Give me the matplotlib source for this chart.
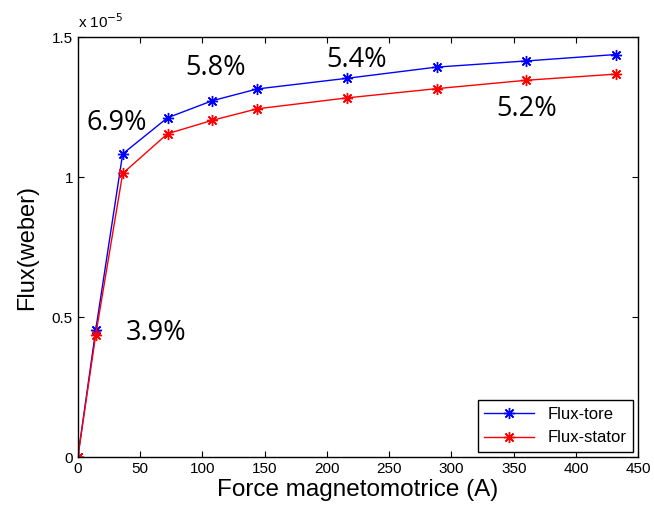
import matplotlib
matplotlib.use('Agg')
import matplotlib.pyplot as plt

# force magnetomotrice (A)
fmm = [0, 14.4, 36, 72, 108, 144, 216, 288, 360, 432]
# flux in units of 1e-5 weber
flux_tore = [0, 0.455, 1.083, 1.212, 1.273, 1.315, 1.353, 1.393, 1.415, 1.438]
flux_stator = [0, 0.437, 1.013, 1.155, 1.203, 1.244, 1.283, 1.316, 1.346, 1.368]

# percentage annotations
pct_labels = ['6.9%', '5.8%', '5.4%', '5.2%', '3.9%']
pct_x = [31, 111, 223.5, 360, 62.5]
pct_y = [1.195, 1.39, 1.418, 1.243, 0.443]

plt.rcParams['font.family'] = ['Liberation Sans', 'DejaVu Sans']

fig = plt.figure(figsize=(6.54, 5.09), dpi=100)
ax = fig.add_axes([0.119, 0.102, 0.857, 0.825])

mk = (8, 2, 0)
ax.plot(fmm, flux_tore, color='blue', lw=1, marker=mk, ms=8, mew=1, label='Flux-tore')
ax.plot(fmm, flux_stator, color='red', lw=1, marker=mk, ms=8, mew=1, label='Flux-stator')

for lab, x, y in zip(pct_labels, pct_x, pct_y):
    ax.text(x, y, lab, fontsize=19.5, family=['Open Sans', 'DejaVu Sans'],
            ha='center', va='center')

ax.set_xlim(0, 450)
ax.set_ylim(0, 1.5)
ax.set_xticks(range(0, 451, 50))
ax.set_yticks([0, 0.5, 1, 1.5])
ax.set_yticklabels(['0', '0.5', '1', '1.5'])
ax.tick_params(direction='in', top=True, right=True, labelsize=11, length=4)
for s in ax.spines.values():
    s.set_linewidth(1)

ax.text(0.0, 1.015, 'x 10$^{-5}$', transform=ax.transAxes, fontsize=11,
        ha='left', va='bottom')

ax.set_xlabel('Force magnetomotrice (A)', fontsize=17.5, labelpad=2)
ax.set_ylabel('Flux(weber)', fontsize=17, labelpad=10)

leg = ax.legend(loc='lower right', fontsize=12, fancybox=False, framealpha=1,
                edgecolor='black', borderaxespad=0.3, handlelength=3.0)
leg.get_frame().set_linewidth(1)

fig.savefig('out.png', dpi=100)
